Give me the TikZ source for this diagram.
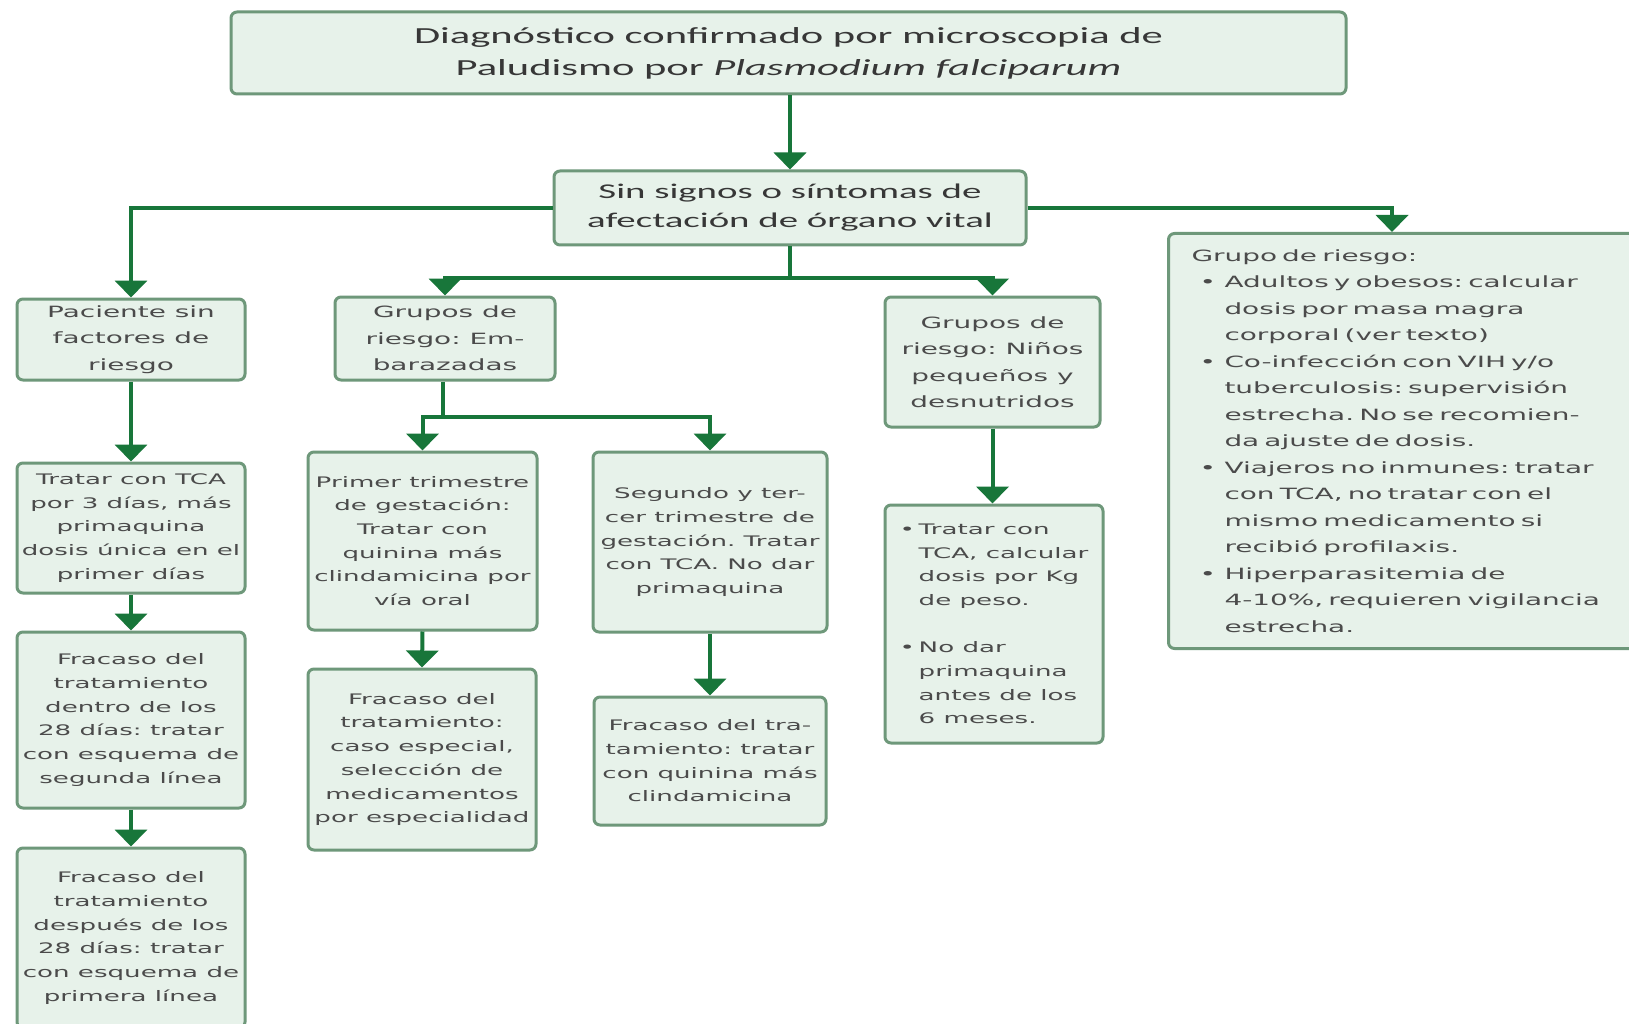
\documentclass[tikz,border=0pt]{standalone}
\usepackage{fontspec}
\usetikzlibrary{arrows.meta}
\newfontfamily\titlefont[FakeStretch=1.85]{Carlito}
\newfontfamily\boxfont[FakeStretch=1.8]{DejaVu Sans}
\definecolor{boxfill}{RGB}{231,242,234}
\definecolor{boxline}{RGB}{110,152,122}
\definecolor{arrowgreen}{RGB}{24,118,58}
\definecolor{txt}{RGB}{75,75,75}
\definecolor{titletxt}{RGB}{55,55,55}
\frenchspacing
\begin{document}
\begin{tikzpicture}[x=1pt,y=-1pt,
  box/.style={draw=boxline, fill=boxfill, line width=3pt, rounded corners=6pt, align=center, inner sep=0pt, text=txt},
  smallbox/.style={box, font=\boxfont\fontsize{14.5}{23.7}\selectfont},
  bigbox/.style={box, font=\boxfont\fontsize{15.5}{26.5}\selectfont},
  conn/.style={draw=arrowgreen, line width=4pt},
  arr/.style={conn, -{Triangle[width=32pt,length=17pt]}},
]
\clip (0,0) rectangle (1629,1024);
\fill[white] (0,0) rectangle (1629,1024);

% top
\node[box, text=titletxt, font=\titlefont\fontsize{23}{32}\selectfont, minimum width=1115, minimum height=82] (T) at (788.5,53)
  {Diagnóstico confirmado por microscopia de\\Paludismo por \textit{Plasmodium falciparum}};
\node[box, text=titletxt, font=\titlefont\fontsize{21}{29}\selectfont, minimum width=472, minimum height=74] (S) at (790,208)
  {Sin signos o síntomas de\\afectación de órgano vital};

% left column
\node[bigbox, minimum width=228, minimum height=81] (A) at (131,339.5) {Paciente sin\\factores de\\riesgo};
\node[smallbox, minimum width=228, minimum height=130] (B) at (131,528) {Tratar con TCA\\por 3 días, más\\primaquina\\dosis única en el\\primer días};
\node[smallbox, minimum width=228, minimum height=176] (C) at (131,720) {Fracaso del\\tratamiento\\dentro de los\\28 días: tratar\\con esquema de\\segunda línea};
\node[smallbox, minimum width=228, minimum height=180] (D) at (131,938) {Fracaso del\\tratamiento\\después de los\\28 días: tratar\\con esquema de\\primera línea};

% embarazadas
\node[bigbox, minimum width=220, minimum height=83] (E) at (445,338.5) {Grupos de\\riesgo: Em-\\barazadas};
\node[smallbox, minimum width=229, minimum height=178] (F) at (422.5,541) {Primer trimestre\\de gestación:\\Tratar con\\quinina más\\clindamicina por\\vía oral};
\node[smallbox, minimum width=228, minimum height=181] (G) at (422,759.5) {Fracaso del\\tratamiento:\\caso especial,\\selección de\\medicamentos\\por especialidad};
\node[smallbox, minimum width=234, minimum height=180] (H) at (710,542) {Segundo y ter-\\cer trimestre de\\gestación. Tratar\\con TCA. No dar\\primaquina};
\node[smallbox, minimum width=232, minimum height=128] (I) at (710,761) {Fracaso del tra-\\tamiento: tratar\\con quinina más\\clindamicina};

% niños
\node[bigbox, minimum width=215, minimum height=130] (J) at (992.5,362) {Grupos de\\riesgo: Niños\\pequeños y\\desnutridos};
\node[smallbox, align=left, minimum width=218, minimum height=238] (K) at (994,624)
  {\makebox[19pt][l]{•}Tratar con\\\hspace*{19pt}TCA, calcular\\\hspace*{19pt}dosis por Kg\\\hspace*{19pt}de peso.\\[23.4pt]
   \makebox[19pt][l]{•}No dar\\\hspace*{19pt}primaquina\\\hspace*{19pt}antes de los\\\hspace*{19pt}6 meses.};

% right box
\node[bigbox, align=left, anchor=north west, text width=440pt, inner xsep=23pt, minimum height=415] (L) at (1167,232)
  {Grupo de riesgo:\\
   \makebox[33pt][l]{\hspace{8pt}•}Adultos y obesos: calcular\\\hspace*{33pt}dosis por masa magra\\\hspace*{33pt}corporal (ver texto)\\
   \makebox[33pt][l]{\hspace{8pt}•}Co-infección con VIH y/o\\\hspace*{33pt}tuberculosis: supervisión\\\hspace*{33pt}estrecha. No se recomien-\\\hspace*{33pt}da ajuste de dosis.\\
   \makebox[33pt][l]{\hspace{8pt}•}Viajeros no inmunes: tratar\\\hspace*{33pt}con TCA, no tratar con el\\\hspace*{33pt}mismo medicamento si\\\hspace*{33pt}recibió profilaxis.\\
   \makebox[33pt][l]{\hspace{8pt}•}Hiperparasitemia de\\\hspace*{33pt}4-10\%, requieren vigilancia\\\hspace*{33pt}estrecha.};

% connectors
\coordinate (Ltop) at (1392,232);
\coordinate (Sj) at (790,278);
\coordinate (Ej) at (443,417);

\draw[arr] (T.south -| S.north) -- (S.north);
\draw[arr] (S.west) -| (A.north);
\draw[arr] (S.east) -| (Ltop);
\draw[conn] (S.south) -- (Sj);
\draw[arr] (Sj) -| (E.north);
\draw[arr] (Sj) -| (J.north);

\draw[arr] (A.south) -- (B.north);
\draw[arr] (B.south) -- (C.north);
\draw[arr] (C.south) -- (D.north);

\draw[conn] (E.south -| Ej) -- (Ej);
\draw[arr] (Ej) -| (F.north);
\draw[arr] (Ej) -| (H.north);
\draw[arr] (F.south) -- (G.north);
\draw[arr] (H.south) -- (I.north);

\draw[arr] (J.south) -- (J.south |- K.north);
\end{tikzpicture}
\end{document}
